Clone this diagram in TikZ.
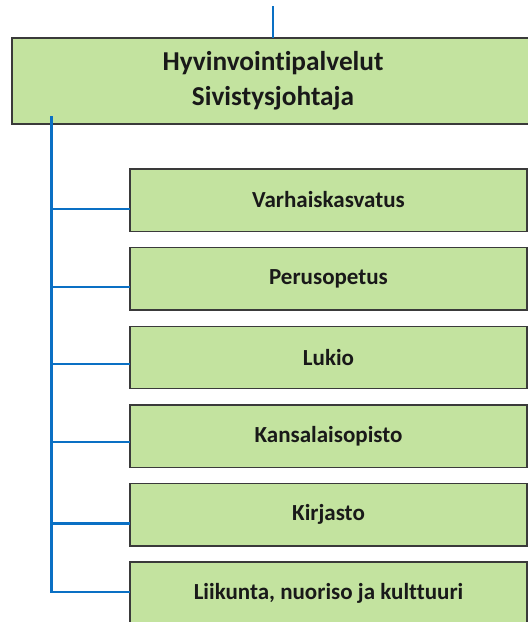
\documentclass[tikz,border=0pt]{standalone}
\usepackage{fontspec}
\setmainfont[Ligatures={NoCommon}]{Carlito}
\definecolor{boxgreen}{HTML}{C3E39F}
\definecolor{boxline}{HTML}{3A3A3A}
\definecolor{linkblue}{HTML}{0A70C4}
\begin{document}
\begin{tikzpicture}[x=1pt,y=-1pt,
  box/.style={draw=boxline,line width=1.4pt,fill=boxgreen},
  link/.style={draw=linkblue,line width=2.2pt},
  boxtext/.style={font=\bfseries\fontsize{23}{27}\selectfont,text=black!90},
  toptext/.style={font=\bfseries\fontsize{27.3}{35}\selectfont,text=black!90,align=center}]
\useasboundingbox (0,0) rectangle (528,622);
\clip (0,0) rectangle (528,622);
% top box
\draw[box] (12,38) rectangle (534,124);
\node[toptext] (top) at (273,81) {Hyvinvointipalvelut\\Sivistysjohtaja};
\coordinate (topin) at (273,38);
\coordinate (topout) at (273,6);
\draw[link] (topout) -- (topin);
% children
\foreach \i/\t/\b in {0/Varhaiskasvatus/40,1/Perusopetus/39,2/Lukio/38,3/Kansalaisopisto/37,4/Kirjasto/40,5/{Liikunta, nuoriso ja kulttuuri}/30}{
  \pgfmathsetmacro{\ytop}{169+78.6*\i}
  \draw[box] (130,\ytop) rectangle (527,\ytop+62.5);
  \node[boxtext] (c\i) at (328.5,\ytop+31) {\t};
  \coordinate (b\i) at (130,\ytop+\b);
}
\coordinate (trunktop) at (51.5,116);
\draw[link] (trunktop) -- (trunktop |- b5) -- (b5);
\foreach \i in {0,...,4}{
  \draw[link] (trunktop |- b\i) -- (b\i);
}
\end{tikzpicture}
\end{document}
